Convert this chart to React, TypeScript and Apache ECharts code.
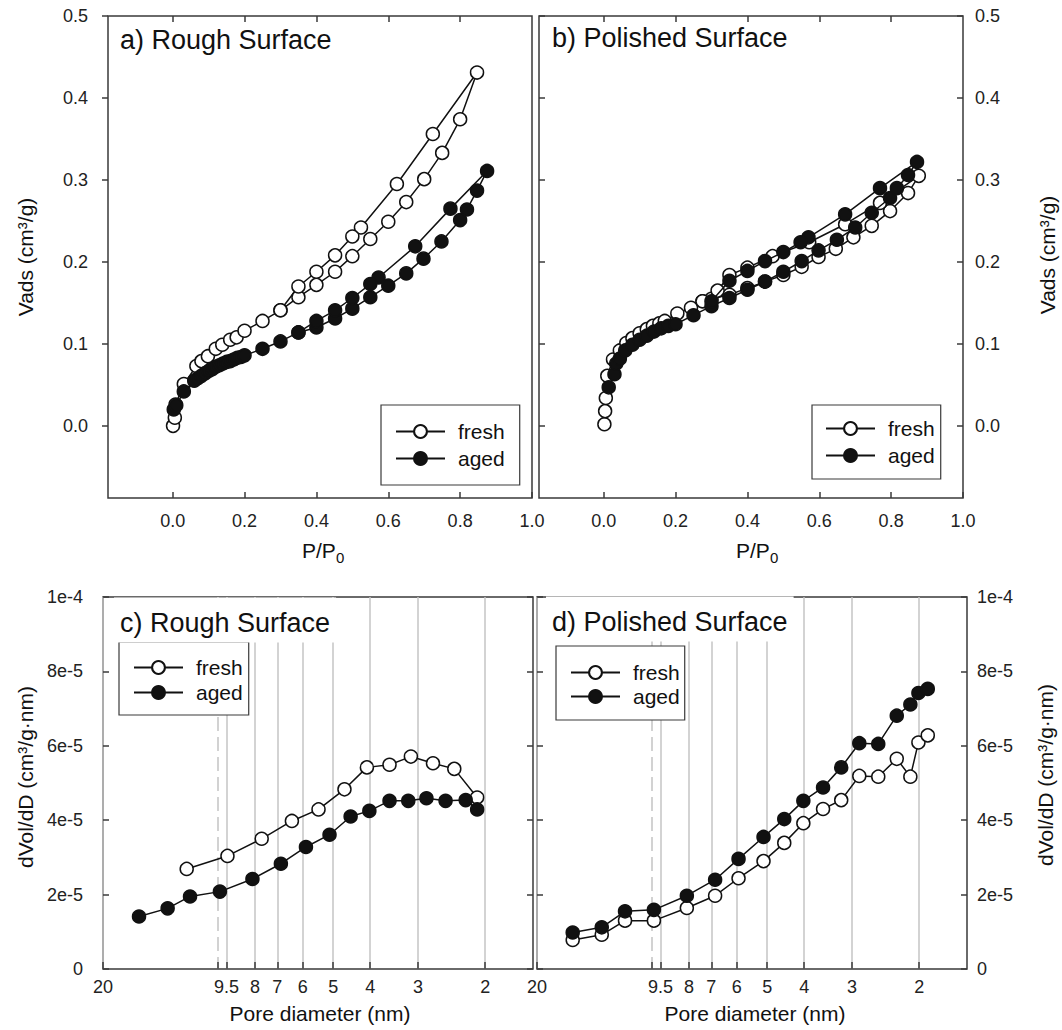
import React, { useEffect, useRef } from 'react';
import * as echarts from 'echarts';

const FONT = "'Liberation Sans', Arial, Helvetica, sans-serif";
const INK = '#111111';
const FRAME = '#3a3a3a';

// ---------- Panel a: Rough surface isotherms (P/P0, Vads) ----------
const roughFreshIso: number[][] = [
  [0.001, 0.000], [0.006, 0.010], [0.008, 0.026], [0.031, 0.051], [0.066, 0.073], [0.080, 0.079],
  [0.098, 0.085], [0.120, 0.094], [0.138, 0.099], [0.160, 0.105], [0.178, 0.108], [0.200, 0.116],
  [0.250, 0.128], [0.300, 0.141], [0.350, 0.157], [0.400, 0.172], [0.452, 0.188], [0.500, 0.207],
  [0.550, 0.228], [0.600, 0.249], [0.650, 0.273], [0.700, 0.301], [0.750, 0.333], [0.800, 0.374],
  [0.847, 0.431],
  [0.724, 0.356], [0.624, 0.295], [0.524, 0.242], [0.500, 0.231], [0.452, 0.208], [0.400, 0.188],
  [0.350, 0.170], [0.300, 0.141],
];
const roughAgedIso: number[][] = [
  [0.003, 0.020], [0.010, 0.025], [0.031, 0.042], [0.060, 0.055], [0.070, 0.058], [0.080, 0.061],
  [0.090, 0.064], [0.100, 0.067], [0.110, 0.069], [0.120, 0.072], [0.130, 0.074], [0.140, 0.076],
  [0.150, 0.078], [0.160, 0.079], [0.170, 0.081], [0.180, 0.083], [0.190, 0.084], [0.200, 0.086],
  [0.250, 0.094], [0.300, 0.103], [0.350, 0.114], [0.400, 0.120], [0.452, 0.131], [0.500, 0.143],
  [0.550, 0.157], [0.600, 0.171], [0.650, 0.186], [0.698, 0.204], [0.748, 0.225], [0.800, 0.251],
  [0.819, 0.264], [0.847, 0.287], [0.875, 0.311],
  [0.773, 0.265], [0.675, 0.219], [0.573, 0.181], [0.550, 0.173], [0.500, 0.156], [0.452, 0.141],
  [0.400, 0.128], [0.350, 0.114],
];

// ---------- Panel b: Polished surface isotherms ----------
const polishedFreshIso: number[][] = [
  [0.002, 0.002], [0.004, 0.018], [0.006, 0.034], [0.010, 0.061], [0.026, 0.081], [0.045, 0.092],
  [0.063, 0.101], [0.080, 0.107], [0.100, 0.113], [0.120, 0.118], [0.137, 0.122], [0.155, 0.125],
  [0.170, 0.128], [0.205, 0.137], [0.243, 0.144], [0.275, 0.152], [0.300, 0.155], [0.350, 0.160],
  [0.400, 0.168], [0.449, 0.176], [0.500, 0.184], [0.551, 0.194], [0.598, 0.206], [0.646, 0.216],
  [0.695, 0.230], [0.746, 0.244], [0.797, 0.262], [0.847, 0.284], [0.877, 0.305],
  [0.769, 0.272], [0.672, 0.246], [0.572, 0.224], [0.470, 0.207], [0.400, 0.193], [0.350, 0.184],
  [0.317, 0.165], [0.275, 0.152],
];
const polishedAgedIso: number[][] = [
  [0.014, 0.047], [0.030, 0.063], [0.035, 0.076], [0.045, 0.082], [0.060, 0.092], [0.080, 0.099],
  [0.100, 0.105], [0.120, 0.110], [0.140, 0.115], [0.160, 0.119], [0.180, 0.122], [0.200, 0.124],
  [0.250, 0.135], [0.300, 0.146], [0.350, 0.156], [0.400, 0.166], [0.449, 0.176], [0.500, 0.188],
  [0.551, 0.201], [0.598, 0.214], [0.649, 0.227], [0.700, 0.242], [0.746, 0.260], [0.797, 0.278],
  [0.816, 0.290], [0.847, 0.306], [0.872, 0.322],
  [0.769, 0.290], [0.672, 0.258], [0.570, 0.230], [0.548, 0.224], [0.500, 0.212], [0.449, 0.201],
  [0.400, 0.189], [0.350, 0.177], [0.300, 0.152],
];

// ---------- Panel c: Rough surface pore size distribution ----------
const roughFreshD = [12.08, 9.45, 7.69, 6.41, 5.46, 4.67, 4.08, 3.56, 3.13, 2.74, 2.41, 2.10];
const roughFreshDV = [2.69e-5, 3.04e-5, 3.50e-5, 3.98e-5, 4.29e-5, 4.83e-5, 5.42e-5, 5.49e-5, 5.71e-5, 5.53e-5, 5.38e-5, 4.61e-5];
const roughAgedD = [16.10, 13.55, 11.84, 9.89, 8.13, 6.85, 5.89, 5.11, 4.50, 4.02, 3.56, 3.18, 2.85, 2.54, 2.25, 2.10];
const roughAgedDV = [1.41e-5, 1.63e-5, 1.95e-5, 2.08e-5, 2.42e-5, 2.83e-5, 3.28e-5, 3.61e-5, 4.10e-5, 4.25e-5, 4.52e-5, 4.52e-5, 4.59e-5, 4.52e-5, 4.54e-5, 4.29e-5];

// ---------- Panel d: Polished surface pore size distribution ----------
const polishedD = [16.13, 13.54, 11.77, 9.89, 8.11, 6.84, 5.94, 5.11, 4.51, 4.02, 3.57, 3.20, 2.87, 2.56, 2.29, 2.11, 2.01, 1.90];
const polishedFreshDV = [0.78e-5, 0.92e-5, 1.30e-5, 1.30e-5, 1.64e-5, 1.97e-5, 2.44e-5, 2.90e-5, 3.39e-5, 3.92e-5, 4.30e-5, 4.54e-5, 5.19e-5, 5.17e-5, 5.65e-5, 5.17e-5, 6.09e-5, 6.28e-5];
const polishedAgedDV = [0.98e-5, 1.12e-5, 1.55e-5, 1.59e-5, 1.97e-5, 2.40e-5, 2.96e-5, 3.55e-5, 4.03e-5, 4.52e-5, 4.88e-5, 5.42e-5, 6.07e-5, 6.05e-5, 6.81e-5, 7.11e-5, 7.42e-5, 7.53e-5];

// ---------- Ticks ----------
const pTicks = [0, 0.2, 0.4, 0.6, 0.8, 1.0];
const vTicks = [0, 0.1, 0.2, 0.3, 0.4, 0.5];
const poreTickValues = [20, 9.5, 8, 7, 6, 5, 4, 3, 2];
const poreTickLabels = ['20', '9.5', '8', '7', '6', '5', '4', '3', '2'];
const poreDashed = [10];
const dvTicks = [0, 2e-5, 4e-5, 6e-5, 8e-5, 1e-4];
const dvTickLabels = ['0', '2e-5', '4e-5', '6e-5', '8e-5', '1e-4'];

const titles = ['a) Rough Surface', 'b) Polished Surface', 'c) Rough Surface', 'd) Polished Surface'];
const seriesNames = ['fresh', 'aged'];

const PORE_MIN = Math.log10(1.5);
const PORE_MAX = Math.log10(20);

const labelStyle = { fontSize: 18, color: '#222', fontFamily: FONT };
const tickLine = { color: FRAME, width: 1.5 };
const noLine = { show: false, onZero: false };

function pAxis(gridIndex: number, position: string, labels: boolean) {
  return {
    type: 'value', gridIndex, position, min: -0.18, max: 1.0,
    axisLine: noLine,
    axisTick: { show: true, inside: true, length: 6, customValues: position === 'top' ? pTicks.slice(0, 5) : pTicks, lineStyle: tickLine },
    axisLabel: { show: labels, customValues: pTicks, formatter: (v: number) => v.toFixed(1), margin: 14, ...labelStyle },
    splitLine: { show: false },
  };
}

function vAxis(gridIndex: number, position: string, labels: boolean, inside: boolean, margin: number, ticks = true) {
  return {
    type: 'value', gridIndex, position, min: -0.088, max: 0.5,
    axisLine: noLine,
    axisTick: { show: ticks, inside, length: 6, customValues: vTicks, lineStyle: tickLine },
    axisLabel: { show: labels, customValues: vTicks, formatter: (v: number) => v.toFixed(1), margin, ...labelStyle },
    splitLine: { show: false },
  };
}

function poreLabel(v: number) {
  let best = 0;
  let bd = Infinity;
  poreTickValues.forEach((t, i) => {
    const d = Math.abs(Math.log10(t) - v);
    if (d < bd) { bd = d; best = i; }
  });
  return poreTickLabels[best];
}

function poreAxis(gridIndex: number) {
  const vals = poreTickValues.map((t) => Math.log10(t));
  return {
    type: 'value', gridIndex, position: 'bottom', inverse: true, min: PORE_MIN, max: PORE_MAX,
    axisLine: noLine,
    axisTick: { show: true, inside: true, length: 7, customValues: vals, lineStyle: tickLine },
    axisLabel: { customValues: vals, formatter: poreLabel, margin: 9, ...labelStyle },
    splitLine: { show: true, lineStyle: { color: '#c4c4c4', width: 1.5 } },
  };
}

function poreDashAxis(gridIndex: number) {
  const vals = poreDashed.map((t) => Math.log10(t));
  return {
    type: 'value', gridIndex, position: 'bottom', inverse: true, min: PORE_MIN, max: PORE_MAX,
    axisLine: noLine,
    axisTick: { show: true, inside: true, length: 7, customValues: vals, lineStyle: tickLine },
    axisLabel: { show: false },
    splitLine: { show: true, lineStyle: { color: '#c4c4c4', width: 1.5, type: [14, 6] } },
  };
}

function dvAxis(gridIndex: number, position: string, labels: boolean, margin: number) {
  return {
    type: 'value', gridIndex, position, min: 0, max: 1e-4,
    axisLine: noLine,
    axisTick: { show: true, inside: true, length: 6, customValues: dvTicks, lineStyle: tickLine },
    axisLabel: {
      show: labels, customValues: dvTicks, margin, ...labelStyle,
      formatter: (v: number) => {
        let best = 0; let bd = Infinity;
        dvTicks.forEach((t, i) => { const d = Math.abs(t - v); if (d < bd) { bd = d; best = i; } });
        return dvTickLabels[best];
      },
    },
    splitLine: { show: false },
  };
}

function lineSeries(name: string, data: number[][], xi: number, yi: number, filled: boolean) {
  return {
    type: 'line', name, data, xAxisIndex: xi, yAxisIndex: yi,
    symbol: 'circle', symbolSize: 13, showSymbol: true,
    lineStyle: { color: INK, width: 1.5 },
    itemStyle: filled
      ? { color: INK, borderColor: INK, borderWidth: 1.5 }
      : { color: '#ffffff', borderColor: INK, borderWidth: 1.5 },
    emphasis: { disabled: true },
    z: filled ? 3 : 2,
  };
}

const pore = (d: number[], v: number[]) => d.map((x, i) => [Math.log10(x), v[i]]);

function legend(left: number, top: number, padding: number[], itemGap: number) {
  return {
    data: seriesNames, orient: 'vertical', left, top, padding, itemGap,
    itemWidth: 49, itemHeight: 16, backgroundColor: '#ffffff',
    borderColor: FRAME, borderWidth: 1.2, borderRadius: 0, selectedMode: false,
    textStyle: { fontSize: 21, color: INK, fontFamily: FONT, padding: [0, 0, 0, 8] },
  };
}

function titleOpt(text: string, left: number, top: number, bg: boolean) {
  return {
    text, left, top,
    padding: bg ? [12, 6, 6, 6] : 0,
    backgroundColor: bg ? '#ffffff' : 'transparent',
    textStyle: { fontSize: 27, fontWeight: 'normal', color: INK, fontFamily: FONT },
  };
}

function vText(x: number, y: number, text: string) {
  return {
    type: 'text', x, y, rotation: Math.PI / 2,
    style: { text, fontSize: 21, fontFamily: FONT, fill: INK, align: 'center', verticalAlign: 'middle' },
  };
}

function hText(x: number, y: number, text: string, size: number, align: string) {
  return {
    type: 'text', x, y,
    style: { text, fontSize: size, fontFamily: FONT, fill: INK, align, verticalAlign: 'middle' },
  };
}

export default function App() {
  const ref = useRef<HTMLDivElement>(null);
  useEffect(() => {
    if (!ref.current) return;
    const chart = echarts.init(ref.current, undefined, { renderer: 'svg' });
    const gridBase = { show: true, borderColor: FRAME, borderWidth: 1.5, backgroundColor: 'transparent', containLabel: false };
    const option: any = {
      animation: false,
      backgroundColor: '#ffffff',
      textStyle: { fontFamily: FONT },
      grid: [
        { ...gridBase, left: 108, top: 16, width: 424, height: 482 },
        { ...gridBase, left: 539, top: 16, width: 424, height: 482 },
        { ...gridBase, left: 103, top: 597, width: 430, height: 372 },
        { ...gridBase, left: 537, top: 597, width: 430, height: 372 },
      ],
      xAxis: [
        pAxis(0, 'bottom', true),
        pAxis(0, 'top', false),
        pAxis(1, 'bottom', true),
        pAxis(1, 'top', false),
        poreAxis(2),
        poreDashAxis(2),
        poreAxis(3),
        poreDashAxis(3),
      ],
      yAxis: [
        vAxis(0, 'left', true, false, 20),
        vAxis(1, 'left', false, true, 10),
        vAxis(1, 'right', true, true, 12),
        dvAxis(2, 'left', true, 20),
        dvAxis(2, 'right', false, 10),
        dvAxis(3, 'left', false, 10),
        dvAxis(3, 'right', true, 10),
      ],
      title: [
        titleOpt(titles[0], 120, 26, false),
        titleOpt(titles[1], 552, 24, false),
        titleOpt(titles[2], 114, 597.5, true),
        titleOpt(titles[3], 546, 596.5, true),
      ],
      legend: [
        legend(381, 405, [16, 15, 16, 14], 6),
        legend(812, 405, [13, 6, 13, 13], 6),
        legend(119, 642, [15, 6, 12, 14], 4),
        legend(556, 646, [16, 5, 13, 14], 3),
      ],
      series: [
        lineSeries(seriesNames[0], roughFreshIso, 0, 0, false),
        lineSeries(seriesNames[1], roughAgedIso, 0, 0, true),
        lineSeries(seriesNames[0], polishedFreshIso, 2, 2, false),
        lineSeries(seriesNames[1], polishedAgedIso, 2, 2, true),
        lineSeries(seriesNames[0], pore(roughFreshD, roughFreshDV), 4, 3, false),
        lineSeries(seriesNames[1], pore(roughAgedD, roughAgedDV), 4, 3, true),
        lineSeries(seriesNames[0], pore(polishedD, polishedFreshDV), 6, 6, false),
        lineSeries(seriesNames[1], pore(polishedD, polishedAgedDV), 6, 6, true),
      ],
      graphic: [
        vText(25, 257, 'Vads (cm³/g)'),
        vText(1047, 255, 'Vads (cm³/g)'),
        vText(25, 777, 'dVol/dD (cm³/g·nm)'),
        vText(1045, 775, 'dVol/dD (cm³/g·nm)'),
        hText(302, 550, 'P/P', 21, 'left'),
        hText(336, 557, '0', 15, 'left'),
        hText(736, 550, 'P/P', 21, 'left'),
        hText(770, 557, '0', 15, 'left'),
        hText(320, 1013, 'Pore diameter (nm)', 21, 'center'),
        hText(755, 1013, 'Pore diameter (nm)', 21, 'center'),
      ],
    };
    chart.setOption(option);
    return () => chart.dispose();
  }, []);
  return (
    <div
      ref={ref}
      style={{ position: 'absolute', left: 0, top: 0, width: 1062, height: 1030, background: '#fff' }}
    />
  );
}
